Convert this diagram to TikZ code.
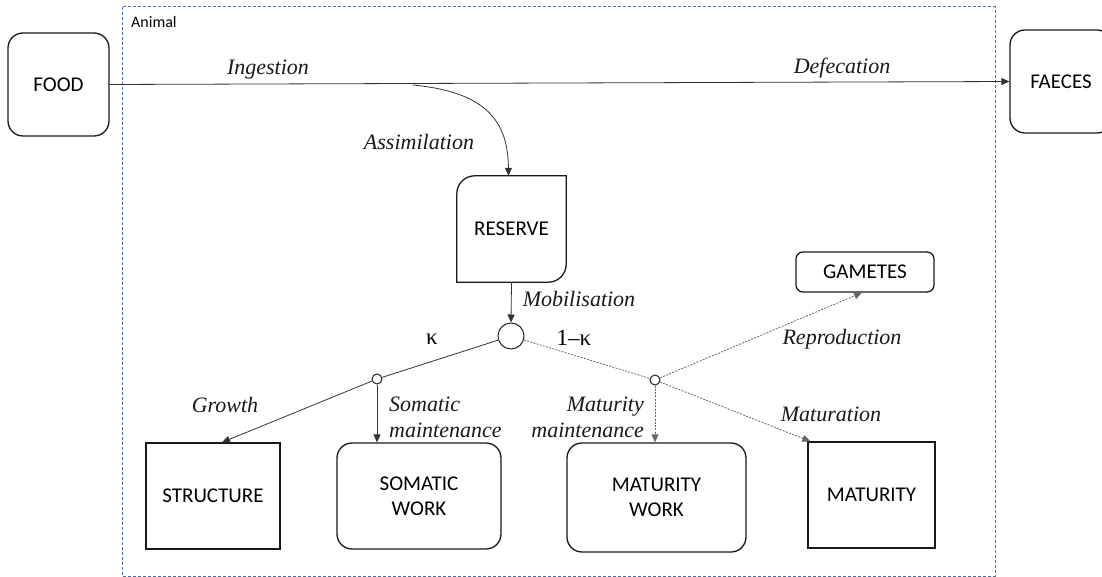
\documentclass[tikz,border=0pt]{standalone}
\usepackage{fontspec}
\setmainfont{Liberation Serif}
\newfontfamily\boxfont{Carlito}
\usetikzlibrary{arrows.meta,calc}
\begin{document}
\begin{tikzpicture}[x=1pt,y=-1pt,
  boxtxt/.style={font=\boxfont\fontsize{21}{25}\selectfont, align=center, inner sep=0pt},
  rbox/.style={boxtxt, draw=black!90, line width=1.3pt, rounded corners=15pt},
  lab/.style={font=\fontsize{22}{26}\selectfont\itshape, inner sep=0pt, text=black!90},
  conn/.style={line width=0.8pt, draw=black!80},
  dotconn/.style={line width=0.8pt, draw=black!60, dash pattern=on 2pt off 1.3pt},
  tip/.style={-{Triangle[length=8pt,width=7pt]}},
  animalbox/.style={draw={rgb,255:red,70;green,110;blue,170}, line width=1pt, dash pattern=on 3pt off 2pt},
  junction/.style={circle, draw=black!85, line width=1pt, inner sep=0pt, fill=white, minimum size=#1}
]
\useasboundingbox (0,0) rectangle (1102,577);
\clip (0,0) rectangle (1102,577);

% animal compartment
\draw[animalbox] (122,7) rectangle (995,576);
\node[font=\boxfont\fontsize{16}{18}\selectfont, anchor=west, inner sep=0pt] (animal) at (131,22) {Animal};

% external boxes
\node[rbox, minimum width=101pt, minimum height=103pt] (food) at (58.5,84.5) {FOOD};
\node[rbox, minimum width=102pt, minimum height=103pt] (faeces) at (1061,81.5) {FAECES};

% reserve
\node[boxtxt, minimum width=109pt, minimum height=106pt] (reserve) at (511.5,229) {RESERVE};
\draw[line width=1.3pt, draw=black!90]
  ($(reserve.north west)+(18,0)$) -- (reserve.north east)
  -- ($(reserve.south east)+(0,-18)$)
  .. controls ($(reserve.south east)+(0,-8)$) and ($(reserve.south east)+(-8,0)$) .. ($(reserve.south east)+(-18,0)$)
  -- (reserve.south west)
  -- ($(reserve.north west)+(0,18)$)
  .. controls ($(reserve.north west)+(0,8)$) and ($(reserve.north west)+(8,0)$) .. ($(reserve.north west)+(18,0)$) -- cycle;

% bottom boxes
\node[boxtxt, draw=black!90, line width=1.3pt, minimum width=134pt, minimum height=106pt] (structure) at (213,496) {STRUCTURE};
\node[rbox, minimum width=164pt, minimum height=106pt] (somatic) at (419,496) {SOMATIC\\WORK};
\node[rbox, minimum width=179pt, minimum height=109pt] (mwork) at (656.5,497.5) {MATURITY\\WORK};
\node[boxtxt, draw=black!90, line width=1.3pt, minimum width=127pt, minimum height=106pt] (maturity) at (871.5,495) {MATURITY};
\node[rbox, rounded corners=7pt, minimum width=138pt, minimum height=40pt] (gametes) at (865,272) {GAMETES};

% junctions
\node[junction=26pt] (split) at (511,336) {};
\node[junction=10pt] (s1) at (377,379) {};
\node[junction=10pt] (s2) at (655,380) {};

% flows
\draw[conn, tip] (food.east) -- (faeces.west);
\coordinate (asstart) at (413,85);
\draw[conn, tip] (asstart) .. controls (485,92) and (508,120) .. ([xshift=-3pt]reserve.north);
\draw[conn, tip] (reserve.south) -- (split.north);
\draw[conn] (split) -- (s1);
\draw[conn, tip] (s1) -- ([xshift=9pt]structure.north);
\draw[conn, tip] (s1.south) -- (s1 |- somatic.north);
\draw[dotconn] (split) -- (s2);
\draw[dotconn, tip] (s2) -- ([xshift=3pt]maturity.north west);
\draw[dotconn, tip] (s2) -- ([xshift=-3pt]gametes.south);
\draw[dotconn, tip] (s2.south) -- (s2 |- mwork.north);

% labels
\node[lab] (ingestion) at (268,70) {Ingestion};
\node[lab] (defecation) at (842,68) {Defecation};
\node[lab] (assimilation) at (419,142) {Assimilation};
\node[lab] (mobilisation) at (579,299) {Mobilisation};
\node[font=\fontsize{23}{24}\selectfont, inner sep=0pt] (kappa) at (432,339) {κ};
\node[font=\fontsize{23}{24}\selectfont, inner sep=0pt] (onekappa) at (574,338) {1–κ};
\node[lab] (growth) at (225,405) {Growth};
\node[lab, align=left, anchor=west] (somlab) at (389,417) {Somatic\\maintenance};
\node[lab, align=right, anchor=east] (matlab) at (644,417) {Maturity\\maintenance};
\node[lab] (reproduction) at (842,339) {Reproduction};
\node[lab] (maturation) at (831,414) {Maturation};
\end{tikzpicture}
\end{document}
